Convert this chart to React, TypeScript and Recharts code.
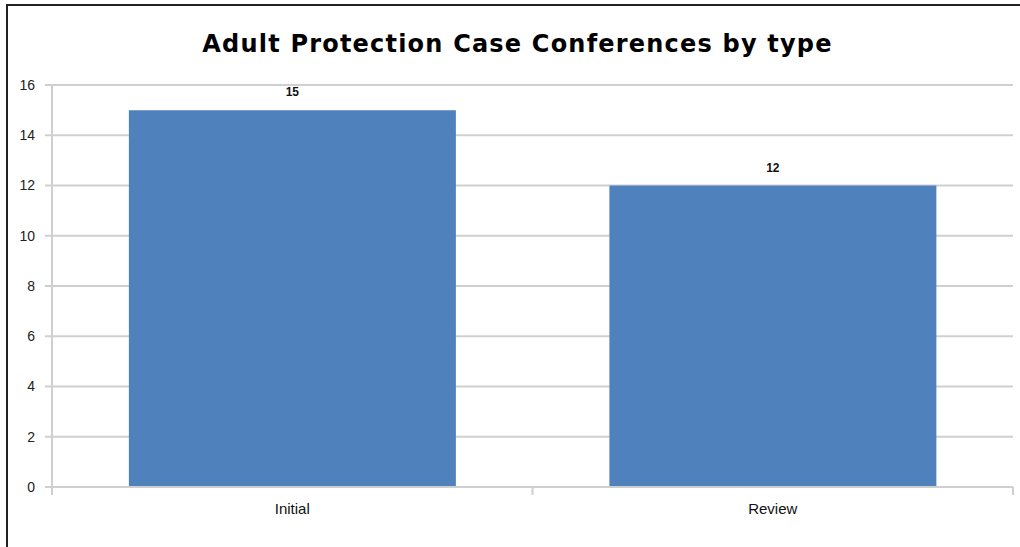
import { BarChart, Bar, XAxis, YAxis, CartesianGrid, LabelList } from 'recharts';

const categories = ['Initial', 'Review'];
const counts = [15, 12];
const yTicks = [0, 2, 4, 6, 8, 10, 12, 14, 16];

const data = categories.map((name, i) => ({ name, value: counts[i] }));

const W = 1020;
const H = 547;
const PLOT_LEFT = 52;
const PLOT_RIGHT = 1013;
const band = (PLOT_RIGHT - PLOT_LEFT) / categories.length;

const CategoryTick = (props: any) => {
  const { x, y, payload, index } = props;
  const left = x - band / 2;
  return (
    <g>
      <line x1={left} y1={y - 8} x2={left} y2={y} stroke="#cfcfcf" strokeWidth={2} />
      {index === categories.length - 1 && (
        <line x1={x + band / 2} y1={y - 8} x2={x + band / 2} y2={y} stroke="#cfcfcf" strokeWidth={2} />
      )}
      <text x={x} y={y + 19} textAnchor="middle" fontSize={15} fill="#111" fontFamily="Liberation Sans, Arial, sans-serif">
        {payload.value}
      </text>
    </g>
  );
};

export default function App() {
  return (
    <div style={{ position: 'absolute', left: 0, top: 0, width: W, height: H, background: '#fff' }}>
      <div
        style={{
          position: 'absolute',
          left: 6,
          top: 4,
          width: W,
          height: 541,
          borderLeft: '2px solid #222',
          borderTop: '2px solid #222',
          borderBottom: '2px solid #aaa',
        }}
      />
      <div
        style={{
          position: 'absolute',
          left: 0,
          top: 30,
          width: 1035,
          textAlign: 'center',
          fontFamily: 'DejaVu Sans, Verdana, sans-serif',
          fontWeight: 'bold',
          fontSize: 24,
          letterSpacing: 1.2,
          color: '#000',
        }}
      >
        Adult Protection Case Conferences by type
      </div>
      <div style={{ position: 'absolute', left: 0, top: 0 }}>
        <BarChart
          width={W}
          height={H}
          data={data}
          margin={{ top: 85, right: W - PLOT_RIGHT, bottom: 30, left: 0 }}
          barCategoryGap="16%"
        >
          <CartesianGrid vertical={false} stroke="#d0d0d0" strokeWidth={2} />
          <XAxis
            dataKey="name"
            axisLine={{ stroke: '#cfcfcf', strokeWidth: 2 }}
            tickLine={false}
            tick={<CategoryTick />}
            height={30}
            interval={0}
          />
          <YAxis
            width={PLOT_LEFT}
            domain={[0, 16]}
            ticks={yTicks}
            interval={0}
            axisLine={{ stroke: '#cfcfcf', strokeWidth: 2 }}
            tickLine={{ stroke: '#cfcfcf', strokeWidth: 2 }}
            tickSize={7}
            tickMargin={10}
            tick={{ fontSize: 14, fill: '#222', fontFamily: 'Liberation Sans, Arial, sans-serif' }}
          />
          <YAxis
            yAxisId="right"
            orientation="right"
            width={0}
            domain={[0, 16]}
            tick={false}
            tickLine={false}
            axisLine={{ stroke: '#cfcfcf', strokeWidth: 2 }}
          />
          <Bar dataKey="value" fill="#4F81BD" isAnimationActive={false}>
            <LabelList
              dataKey="value"
              position="top"
              offset={14}
              style={{ fontSize: 12, fontWeight: 'bold', fill: '#111', fontFamily: 'Liberation Sans, Arial, sans-serif' }}
            />
          </Bar>
        </BarChart>
      </div>
    </div>
  );
}
